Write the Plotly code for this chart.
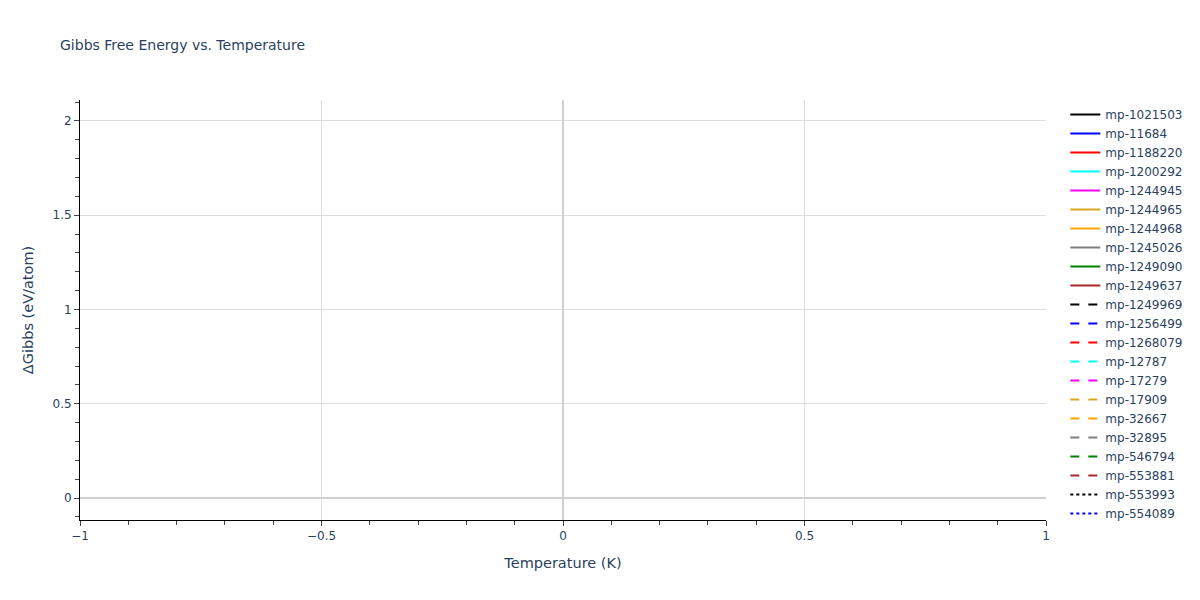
import plotly.graph_objects as go

materials = ["mp-1021503", "mp-11684", "mp-1188220", "mp-1200292", "mp-1244945",
             "mp-1244965", "mp-1244968", "mp-1245026", "mp-1249090", "mp-1249637",
             "mp-1249969", "mp-1256499", "mp-1268079", "mp-12787", "mp-17279",
             "mp-17909", "mp-32667", "mp-32895", "mp-546794", "mp-553881",
             "mp-553993", "mp-554089"]
palette = ["black", "blue", "red", "cyan", "magenta", "goldenrod", "orange",
           "gray", "green", "brown"]
dash_cycle = ["solid", "dash", "dot"]

# No temperature / Gibbs data points are drawn in the reference (empty series)
temperatures = [None]
gibbs_values = [None]

fig = go.Figure()
for i, name in enumerate(materials):
    fig.add_trace(go.Scatter(
        x=temperatures, y=gibbs_values, mode="lines", name=name, showlegend=True,
        line=dict(color=palette[i % len(palette)],
                  dash=dash_cycle[i // len(palette)], width=2),
    ))

axis_common = dict(
    showline=True, linecolor="black", linewidth=1,
    ticks="outside", ticklen=5, tickcolor="#444",
    showgrid=True, gridcolor="#dddddd", gridwidth=1,
    zeroline=True, zerolinecolor="#d0d0d0", zerolinewidth=2,
)

fig.update_layout(
    template="plotly_white",
    width=1200, height=600,
    font=dict(family="DejaVu Sans, Verdana, sans-serif", size=12),
    title=dict(text="Gibbs Free Energy vs. Temperature", x=0.05, font=dict(size=14)),
    xaxis=dict(title=dict(text="Temperature (K)", font=dict(size=14.5)), range=[-1, 1], dtick=0.5,
               minor=dict(ticks="outside", dtick=0.1, ticklen=4, tickcolor="#444", showgrid=False),
               **axis_common),
    yaxis=dict(title=dict(text="ΔGibbs (eV/atom)", font=dict(size=14.5)), range=[-0.116, 2.111], dtick=0.5,
               minor=dict(ticks="outside", dtick=0.1, ticklen=4, tickcolor="#444", showgrid=False),
               **axis_common),
    legend=dict(font=dict(size=12), maxheight=600),
    margin=dict(l=80, r=80, t=100, b=80),
)

fig.write_html("out.html", config={"displayModeBar": False},
               post_script="document.body.style.margin='0';")
